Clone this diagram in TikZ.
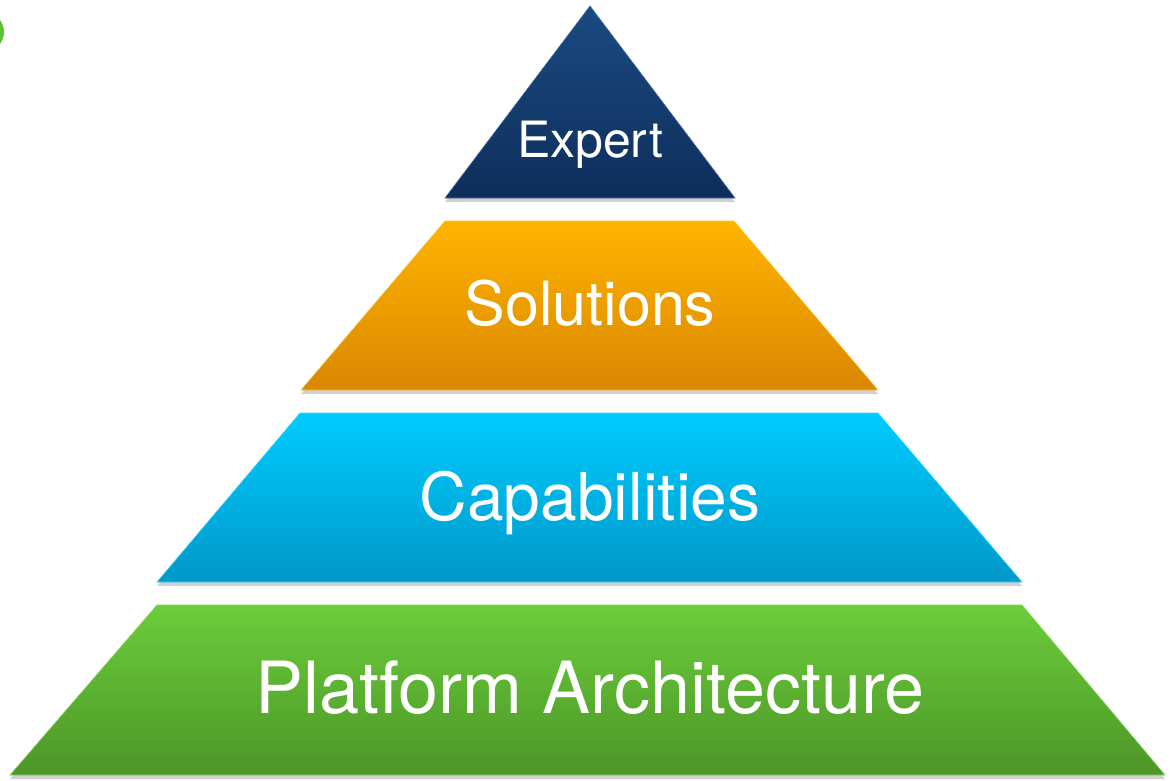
\documentclass[tikz,border=0pt]{standalone}
\usepackage{fontspec}
\setmainfont{TeX Gyre Heros}
\usetikzlibrary{shadows}
\definecolor{navyT}{HTML}{1A4A80}
\definecolor{navyB}{HTML}{0E2E5C}
\definecolor{goldT}{HTML}{FFB400}
\definecolor{goldB}{HTML}{D98700}
\definecolor{cyanT}{HTML}{00CCFF}
\definecolor{cyanB}{HTML}{0098C8}
\definecolor{grnT}{HTML}{6CCC3A}
\definecolor{grnB}{HTML}{4C9628}
\definecolor{dotgrn}{HTML}{5FBE3A}
\tikzset{
  tier/.style={drop shadow={shadow xshift=0pt,shadow yshift=-4pt,opacity=0.3,fill=black!60}},
  lbl/.style={text=white,inner sep=0pt,anchor=base}
}
\begin{document}
\begin{tikzpicture}[x=1pt,y=-1pt]
\useasboundingbox (0,0) rectangle (1170,780);
\fill[white] (0,0) rectangle (1170,780);
% partial circle at left edge
\fill[dotgrn] (-16,32) circle (20pt);
% tiers
\path[tier,top color=grnT,bottom color=grnB,draw=grnT!80!white,line width=0.6pt]
  (157,605) -- (1022,605) -- (1165,775) -- (10,775) -- cycle;
\path[tier,top color=cyanT,bottom color=cyanB,draw=cyanT!80!white,line width=0.6pt]
  (300,413) -- (878,413) -- (1022,582) -- (157,582) -- cycle;
\path[tier,top color=goldT,bottom color=goldB,draw=goldT!80!white,line width=0.6pt]
  (445,221) -- (734,221) -- (878,390) -- (301,390) -- cycle;
\path[tier,top color=navyT,bottom color=navyB,draw=navyT!80!white,line width=0.6pt]
  (590,6) -- (735,198) -- (445,198) -- cycle;
% labels
\node[lbl,font=\fontsize{50}{50}\selectfont] (expert) at (590,157) {Expert};
\node[lbl,font=\fontsize{61}{61}\selectfont] (solutions) at (590,325) {Solutions};
\node[lbl,font=\fontsize{66}{66}\selectfont] (capab) at (590,520) {Capabilities};
\node[lbl,font=\fontsize{72}{72}\selectfont] (platform) at (590,713) {Platform Architecture};
\end{tikzpicture}
\end{document}
